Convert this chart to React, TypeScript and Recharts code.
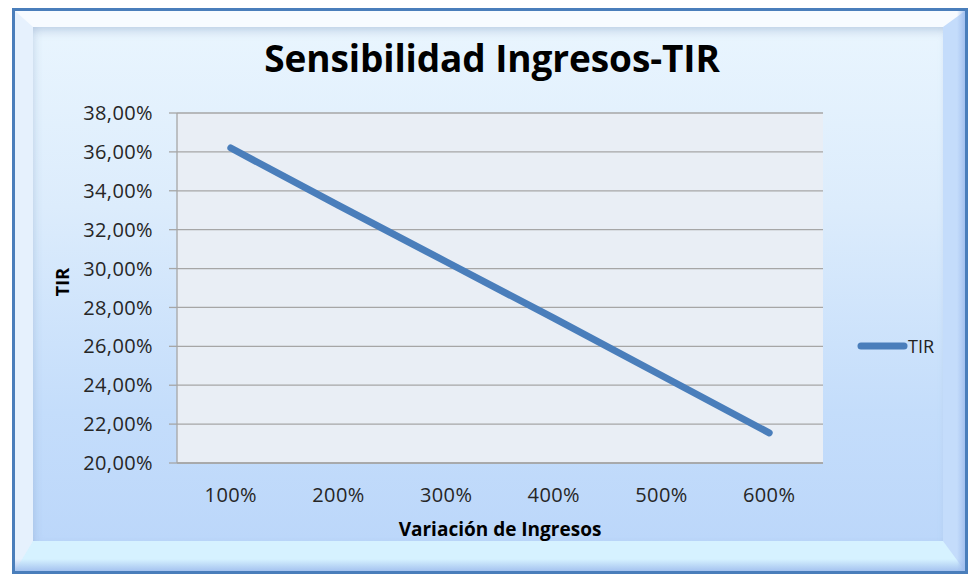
import React from 'react';
import { LineChart, Line, XAxis, YAxis, CartesianGrid } from 'recharts';

const categories = ['100%', '200%', '300%', '400%', '500%', '600%'];
const tirValues = [36.2, 33.25, 30.35, 27.45, 24.5, 21.55];
const yTicks = [20, 22, 24, 26, 28, 30, 32, 34, 36, 38];
const seriesName = 'TIR';

const data = categories.map((c, i) => ({ name: c, TIR: tirValues[i] }));

const FONT = '"Open Sans", sans-serif';
const LINE_COLOR = '#4a7ebb';
const GRID = '#a6a6a6';

const fmt = (v: number) => `${v.toFixed(2).replace('.', ',')}%`;

export default function App() {
  return (
    <div style={{ position: 'absolute', left: 0, top: 0, width: 970, height: 577, background: '#ffffff', overflow: 'hidden' }}>
      {/* outer frame */}
      <div
        style={{
          position: 'absolute', left: 12, top: 8, width: 956, height: 566, boxSizing: 'border-box',
          border: '3px solid #4a7ebb', background: '#c9def9',
        }}
      >
        <div
          style={{
            position: 'absolute', left: 0, top: 0, right: 0, bottom: 0, boxSizing: 'border-box',
            borderTop: '16px solid #f7fbff',
            borderLeft: '18px solid #e6f1fd',
            borderRight: '22px solid #c4dcfb',
            borderBottom: '30px solid #d6f2ff',
          }}
        >
          <div
            style={{
              position: 'absolute', left: 0, top: 0, right: 0, bottom: 0,
              background: 'linear-gradient(180deg, #e9f5fe 0%, #dcecfc 35%, #c4ddfb 75%, #bcd7fa 100%)',
              boxShadow: 'inset 0 8px 8px -4px rgba(120,150,190,0.35), inset 6px 0 8px -4px rgba(120,150,190,0.2)',
            }}
          />
        </div>
        <div style={{ position: 'absolute', left: 0, right: 0, bottom: 0, height: 12, background: 'linear-gradient(180deg, rgba(170,200,240,0.0), rgba(160,190,238,0.9))' }} />
        <div style={{ position: 'absolute', top: 0, right: 0, bottom: 0, width: 8, background: 'linear-gradient(90deg, rgba(170,200,240,0.0), rgba(160,190,238,0.9))' }} />
      </div>

      <div style={{ position: 'absolute', left: 0, top: 0 }}>
        <LineChart
          width={970}
          height={577}
          data={data}
          margin={{ top: 113, right: 147, bottom: 84, left: 0 }}
        >
          <CartesianGrid vertical={false} stroke={GRID} strokeWidth={1.3} fill="#e9eef5" />
          <XAxis
            dataKey="name"
            height={30}
            padding={{ left: 53.83, right: 53.83 }}
            axisLine={{ stroke: GRID, strokeWidth: 1.3 }}
            tickLine={false}
            tickSize={0}
            tickMargin={25}
            tick={{ fill: '#262626', fontSize: 20, fontFamily: FONT, letterSpacing: 0.4 }}
            interval={0}
          />
          <YAxis
            width={177}
            domain={[20, 38]}
            ticks={yTicks}
            tickFormatter={fmt}
            axisLine={{ stroke: GRID, strokeWidth: 1.3 }}
            tickLine={{ stroke: GRID, strokeWidth: 1.3 }}
            tickSize={8}
            tickMargin={16}
            tick={{ fill: '#262626', fontSize: 20, fontFamily: FONT, letterSpacing: 0.4 }}
            interval={0}
          />
          <Line
            type="linear"
            dataKey="TIR"
            name={seriesName}
            stroke={LINE_COLOR}
            strokeWidth={7}
            strokeLinecap="round"
            strokeLinejoin="round"
            dot={false}
            activeDot={false}
            isAnimationActive={false}
          />
        </LineChart>
      </div>

      {/* legend */}
      <div style={{ position: 'absolute', left: 856, top: 334, display: 'flex', alignItems: 'center', fontFamily: FONT, fontSize: 18, color: '#222', lineHeight: '24px' }}>
        <svg width={52} height={10} style={{ display: 'block' }}>
          <line x1={5} y1={5} x2={48} y2={5} stroke={LINE_COLOR} strokeWidth={7} strokeLinecap="round" />
        </svg>
        <span>{seriesName}</span>
      </div>

      {/* titles */}
      <div
        style={{
          position: 'absolute', left: 0, width: 984, top: 38, textAlign: 'center',
          fontFamily: FONT, fontWeight: 700, fontSize: 37, lineHeight: '40px', color: '#000',
          letterSpacing: -0.1,
        }}
      >
        Sensibilidad Ingresos-TIR
      </div>
      <div
        style={{
          position: 'absolute', left: 177, width: 646, top: 517, textAlign: 'center',
          fontFamily: FONT, fontWeight: 700, fontSize: 19, lineHeight: '24px', color: '#000',
        }}
      >
        Variación de Ingresos
      </div>
      <div style={{ position: 'absolute', left: 62, top: 282, width: 0, height: 0 }}>
        <div
          style={{
            position: 'absolute', left: -40, top: -12, width: 80, height: 24, lineHeight: '24px', textAlign: 'center',
            transform: 'rotate(-90deg)', fontFamily: FONT, fontWeight: 700, fontSize: 18, color: '#000',
          }}
        >
          TIR
        </div>
      </div>
    </div>
  );
}
